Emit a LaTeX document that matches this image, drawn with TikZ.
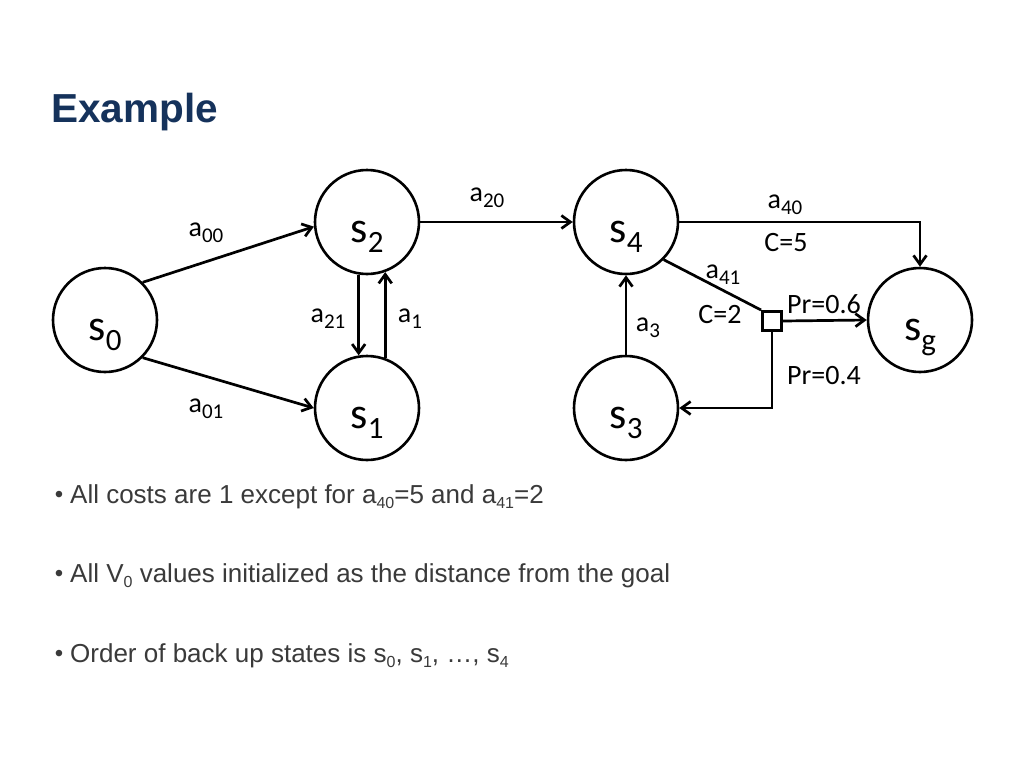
\documentclass[tikz,border=0pt]{standalone}
\usepackage{fontspec}
\setmainfont{Liberation Sans}
\newfontfamily\carl{Carlito}
\usetikzlibrary{arrows.meta}
\definecolor{titleblue}{HTML}{15325B}
\definecolor{bodygray}{HTML}{3A3A3A}
\newcommand{\stlbl}[2]{{\carl\fontsize{44}{44}\selectfont #1\raisebox{-10pt}{\fontsize{31}{31}\selectfont #2}}}
\newcommand{\edlbl}[2]{{\carl\fontsize{28}{28}\selectfont #1\raisebox{-6pt}{\fontsize{21}{21}\selectfont #2}}}
\newcommand{\bsub}[1]{\raisebox{-5pt}{\fontsize{16}{16}\selectfont #1}}
\begin{document}
\begin{tikzpicture}[x=1pt,y=-1pt,
  state/.style={circle,draw,line width=2.6pt,minimum size=104pt,inner sep=0pt,text height=40pt,text depth=0pt},
  chance/.style={rectangle,draw,line width=3pt,minimum size=19pt,inner sep=0pt},
  conn/.style={line width=2.7pt,-{Straight Barb[length=9pt,width=13pt]}},
  plain/.style={line width=2.7pt},
  elbl/.style={inner sep=0pt,font=\carl\fontsize{28}{28}\selectfont},
  bullettext/.style={anchor=base west,inner sep=0pt,text=bodygray,font=\fontsize{26}{31}\selectfont},
  bulletmark/.style={anchor=base,inner sep=0pt,text=bodygray,font=\fontsize{24}{24}\selectfont}]
\useasboundingbox (0,0) rectangle (1024,768);
\fill[white] (0,0) rectangle (1024,768);
% title
\node[anchor=base west,inner sep=0pt,text=titleblue,font=\bfseries\fontsize{40.5}{40}\selectfont] (title) at (51,122) {Example};
% states
\node[state] (s0) at (105,320) {\stlbl{s}{0}};
\node[state] (s2) at (367,222) {\stlbl{s}{2}};
\node[state] (s1) at (367,408) {\stlbl{s}{1}};
\node[state] (s4) at (626,222) {\stlbl{s}{4}};
\node[state] (s3) at (626,408) {\stlbl{s}{3}};
\node[state] (sg) at (920,320) {\stlbl{s}{g}};
\node[chance] (sq) at (772,321) {};
% connectors
\draw[conn] (s0.45) -- (s2.185);
\draw[conn] (s0.-45) -- (s1.west);
\draw[conn] (s2.261) -- (s1.99);
\draw[conn] (s1.70) -- (s2.290);
\draw[conn] (s2.east) -- (s4.west);
\draw[conn] (s4.east) -| (sg.north);
\draw[plain] (s4.-45) -- (sq.north west);
\draw[conn] (sq.east) -- (sg.west);
\draw[conn] (sq.south) |- (s3.east);
\draw[conn] (s3.north) -- (s4.south);
% edge labels
\node[elbl] (l00) at (206,233) {\edlbl{a}{00}};
\node[elbl] (l01) at (206,409) {\edlbl{a}{01}};
\node[elbl] (l21) at (328,319) {\edlbl{a}{21}};
\node[elbl] (l1) at (410,319) {\edlbl{a}{1}};
\node[elbl] (l20) at (487,198) {\edlbl{a}{20}};
\node[elbl] (l40) at (785,205) {\edlbl{a}{40}};
\node[elbl] (c5) at (786,243) {C=5};
\node[elbl] (l41) at (723,275) {\edlbl{a}{41}};
\node[elbl] (c2) at (720,315) {C=2};
\node[elbl] (p6) at (824,304) {Pr=0.6};
\node[elbl] (p4) at (824,376) {Pr=0.4};
\node[elbl] (l3) at (648,328) {\edlbl{a}{3}};
% bullets
\node[bulletmark] (b1) at (59,502) {•};
\node[bullettext] (t1) at (70,503) {All costs are 1 except for a\bsub{40}=5 and a\bsub{41}=2};
\node[bulletmark] (b2) at (59,581) {•};
\node[bullettext] (t2) at (70,582) {All V\bsub{0} values initialized as the distance from the goal};
\node[bulletmark] (b3) at (59,661) {•};
\node[bullettext] (t3) at (70,662) {Order of back up states is s\bsub{0}, s\bsub{1}, …, s\bsub{4}};
\end{tikzpicture}
\end{document}
